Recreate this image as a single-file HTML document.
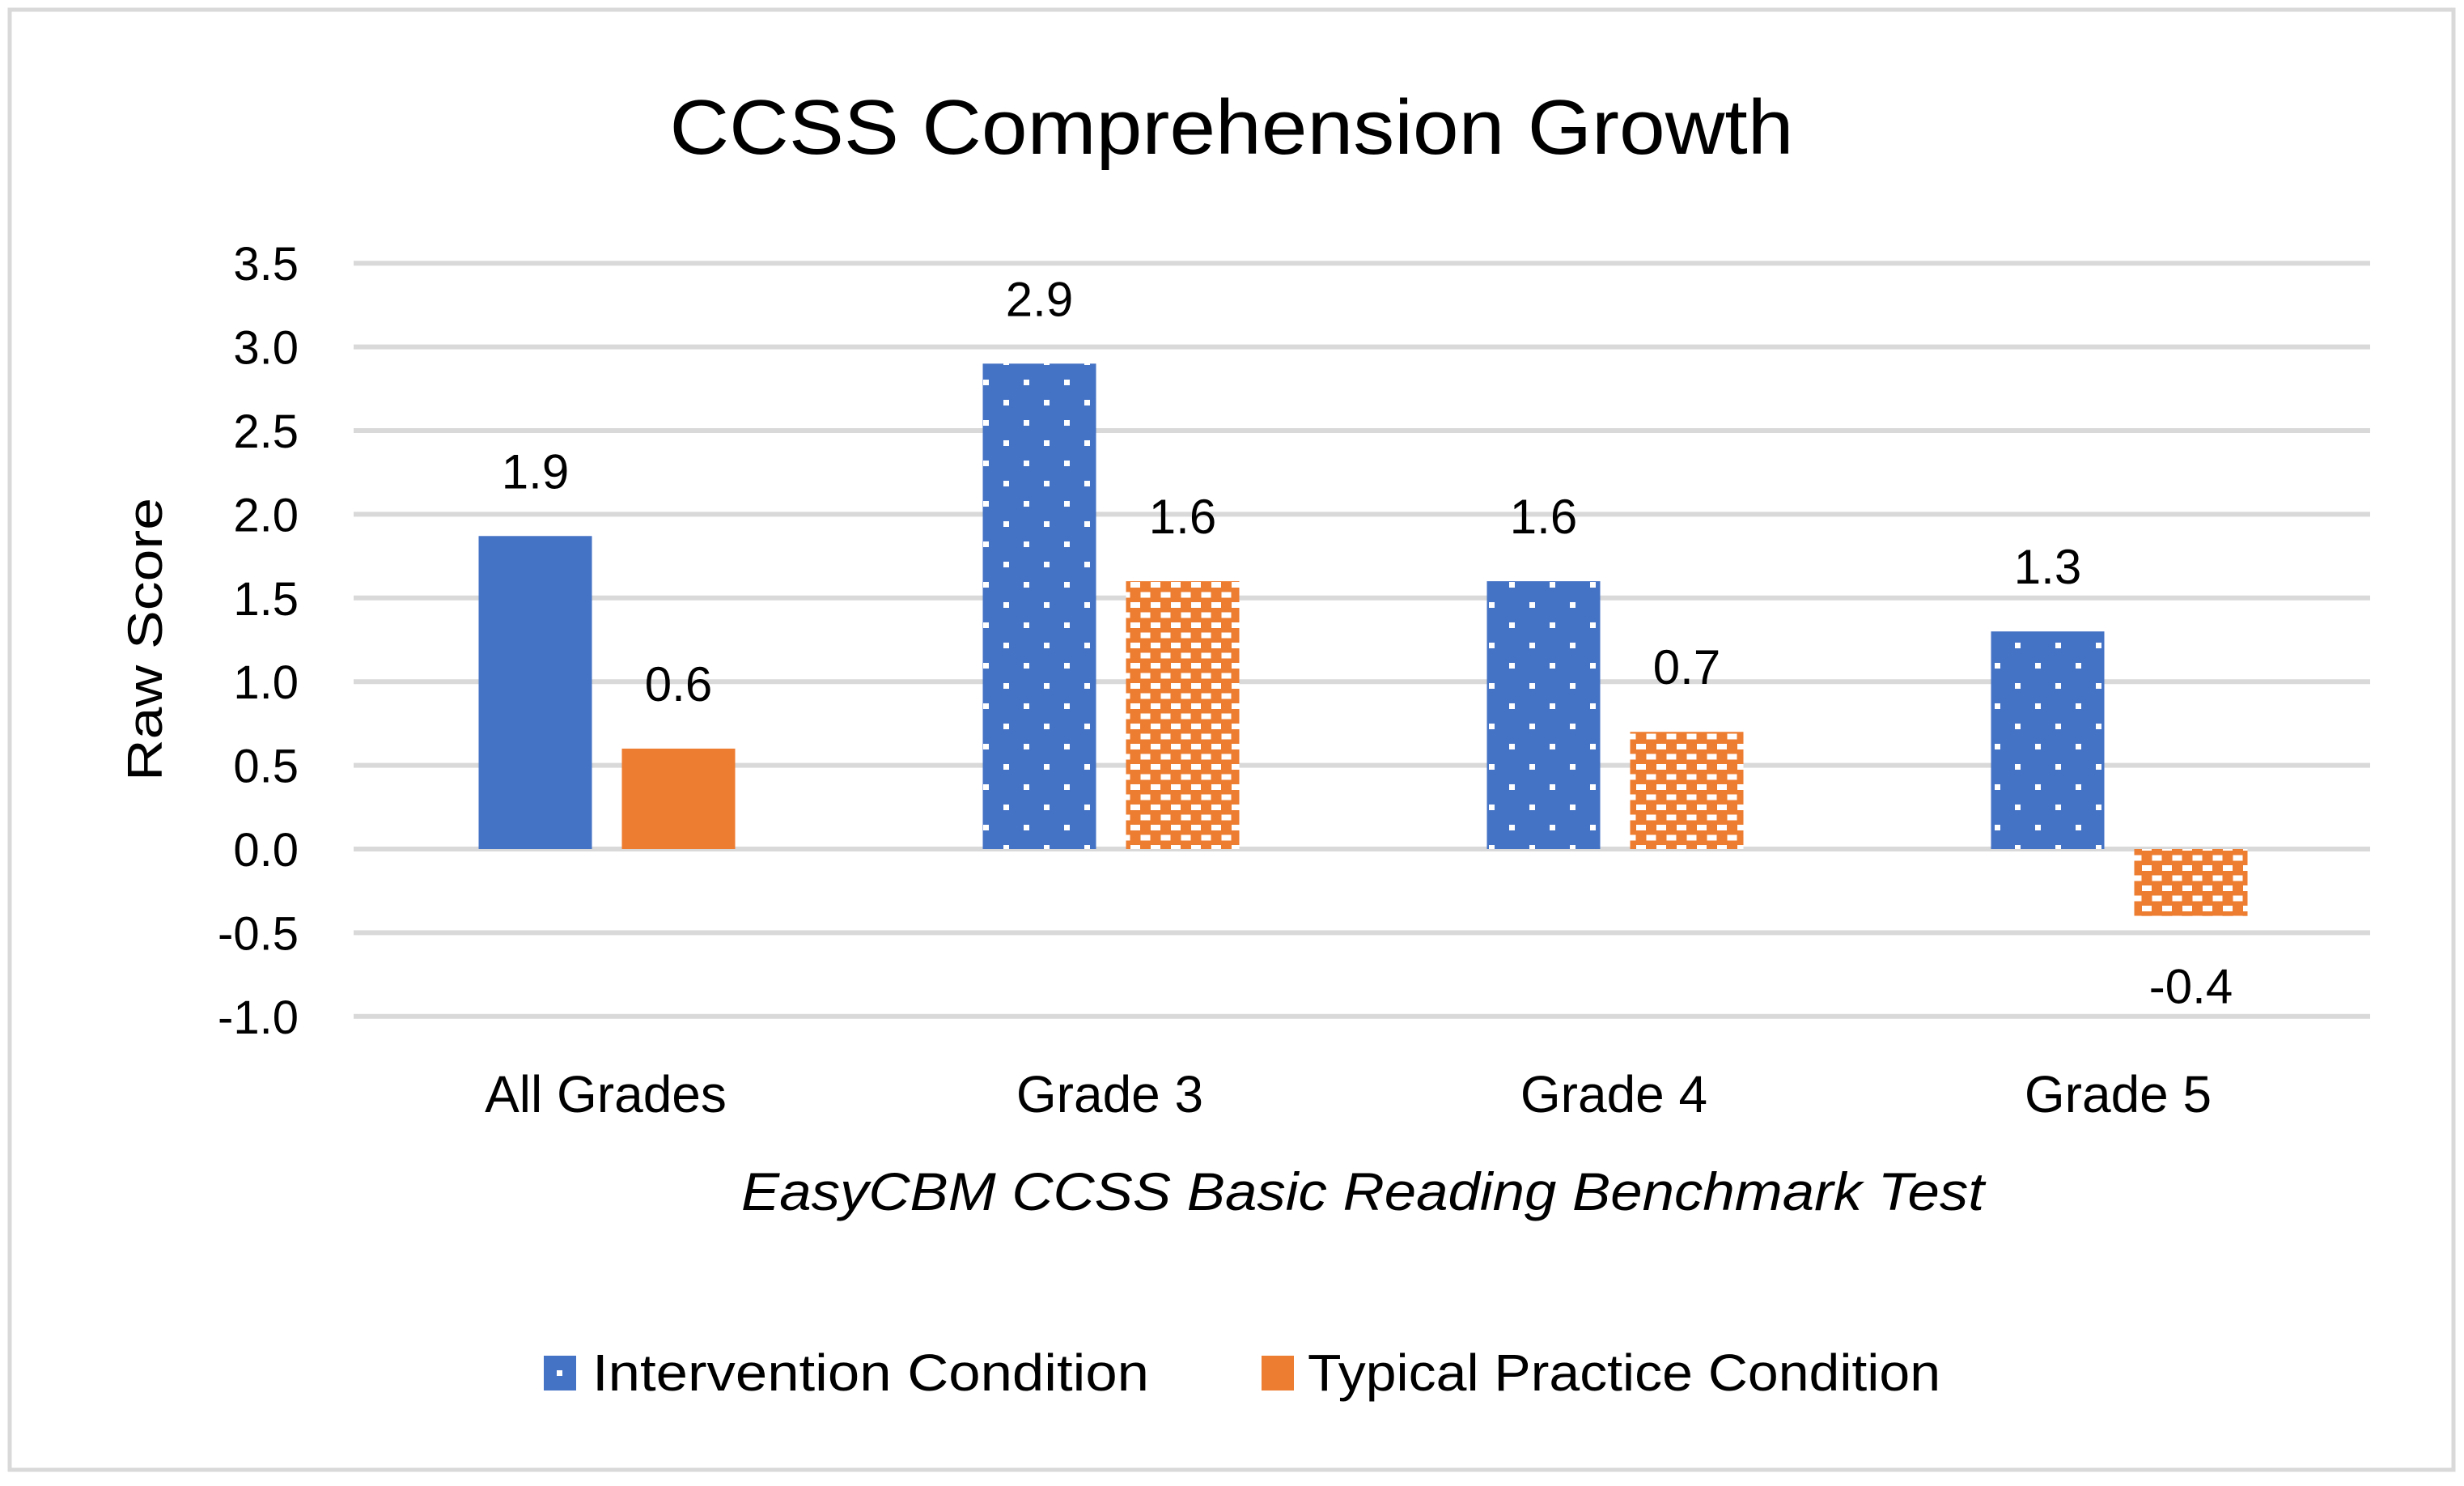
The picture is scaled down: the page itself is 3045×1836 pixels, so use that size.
<!DOCTYPE html>
<html><head><meta charset="utf-8"><style>
html,body{margin:0;padding:0;background:#fff}
svg{display:block;font-family:"Liberation Sans",sans-serif}
</style></head><body>
<svg id="chart" width="3045" height="1836" viewBox="0 0 3045 1836" xmlns="http://www.w3.org/2000/svg">
<defs>
<pattern id="dots" width="50" height="50" patternUnits="userSpaceOnUse" x="1214" y="447">
<rect width="50" height="50" fill="#4472c4"/>
<rect x="1" y="22" width="7" height="7" fill="#fff"/>
<rect x="26" y="47" width="7" height="7" fill="#fff"/>
<rect x="26" y="-3" width="7" height="7" fill="#fff"/>
</pattern>
<pattern id="bricks" width="25" height="25" patternUnits="userSpaceOnUse" x="1392" y="719">
<rect width="25" height="25" fill="#ed7d31"/>
<rect x="5" y="0" width="12" height="7" fill="#fff"/>
<rect x="17.5" y="12.5" width="12" height="7" fill="#fff"/>
<rect x="-7.5" y="12.5" width="12" height="7" fill="#fff"/>
</pattern>
</defs>
<rect x="12" y="12" width="3020" height="1804" fill="#fff" stroke="#d9d9d9" stroke-width="5"/>
<text x="1522" y="190" font-size="96" text-anchor="middle" textLength="1389" lengthAdjust="spacingAndGlyphs">CCSS Comprehension Growth</text>
<g id="grid"></g><g id="bars"></g><g id="labels"></g>
<text transform="translate(200,790) rotate(-90)" font-size="60" text-anchor="middle" textLength="350" lengthAdjust="spacingAndGlyphs">Raw Score</text>
<text x="1684" y="1495" font-size="66" font-style="italic" text-anchor="middle" textLength="1536" lengthAdjust="spacingAndGlyphs">EasyCBM CCSS Basic Reading Benchmark Test</text>
<g>
<g>
<rect x="672" y="1675" width="40" height="43" fill="#4472c4"/>
<rect x="688" y="1693" width="7" height="7" fill="#fff"/>
<text x="732" y="1718" font-size="64" textLength="688" lengthAdjust="spacingAndGlyphs">Intervention Condition</text>
</g>
<g>
<rect x="1559" y="1675" width="40" height="43" fill="#ed7d31"/>
<text x="1616" y="1718" font-size="64" textLength="782" lengthAdjust="spacingAndGlyphs">Typical Practice Condition</text>
</g>
</g>
</svg>
<script>
const categories = ["All Grades","Grade 3","Grade 4","Grade 5"];
const interventionValues = [1.87, 2.9, 1.6, 1.3];
const typicalValues = [0.6, 1.6, 0.7, -0.4];
const interventionLabels = ["1.9","2.9","1.6","1.3"];
const typicalLabels = ["0.6","1.6","0.7","-0.4"];
const yTicks = [3.5,3.0,2.5,2.0,1.5,1.0,0.5,0.0,-0.5,-1.0];
const yTickLabels = ["3.5","3.0","2.5","2.0","1.5","1.0","0.5","0.0","-0.5","-1.0"];

const NS="http://www.w3.org/2000/svg";
const X0=437, X1=2929, Y0=1049, UNIT=206.8;
function yScale(v){return Y0 - v*UNIT;}
function xCenter(i){return X0 + (X1-X0)/categories.length*(i+0.5);}
function mk(tag,attrs,parent){const e=document.createElementNS(NS,tag);for(const k in attrs)e.setAttribute(k,attrs[k]);parent.appendChild(e);return e;}
const grid=document.getElementById('grid'), bars=document.getElementById('bars'), labels=document.getElementById('labels');
yTicks.forEach((t,i)=>{
  const l=mk('line',{x1:X0,x2:X1,y1:yScale(t),y2:yScale(t),stroke:'#d9d9d9','stroke-width':6},grid);
  
  
  const tx=mk('text',{x:369,y:yScale(t)+21,'font-size':58,'text-anchor':'end'},grid);
  tx.textContent=yTickLabels[i];
  
  
});
const BW=140;
categories.forEach((c,i)=>{
  const cx=xCenter(i);
  const cl=mk('text',{x:cx,y:1374,'font-size':64,'text-anchor':'middle'},labels);
  cl.textContent=c;
  
  
  [[interventionValues,interventionLabels,cx-157,i===0?'#4472c4':'url(#dots)','bar-intervention'],
   [typicalValues,typicalLabels,cx+20,i===0?'#ed7d31':'url(#bricks)','bar-typical']].forEach(s=>{
    const v=s[0][i];
    const top=Math.min(yScale(v),Y0), h=Math.abs(yScale(v)-Y0);
    const r=mk('rect',{x:s[2],y:top,width:BW,height:h,fill:s[3]},bars);
    
    
    const ly = v>=0 ? yScale(v)-59 : yScale(v)+108;
    const t=mk('text',{x:s[2]+BW/2,y:ly,'font-size':60,'text-anchor':'middle'},labels);
    t.textContent=s[1][i];
    
    
  });
});
</script>
</body></html>
